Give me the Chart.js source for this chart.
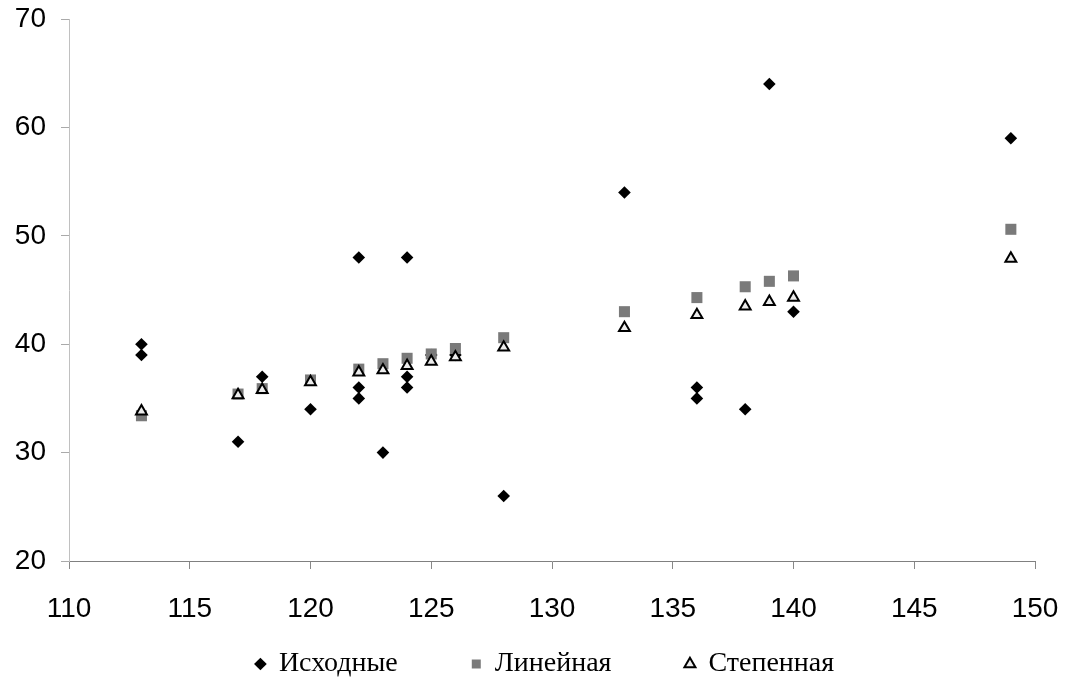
<!DOCTYPE html>
<html>
<head>
<meta charset="utf-8">
<script src="https://cdn.jsdelivr.net/npm/chart.js@4.4.0/dist/chart.umd.min.js"></script>
<style>
  html, body { margin: 0; padding: 0; background: #fff; }
  #wrap { width: 1067px; height: 683px; }
</style>
</head>
<body>
<div id="wrap"><canvas id="chart" width="1067" height="683"></canvas></div>
<script>
// Исходные данные
const srcX = [113, 113, 117, 118, 120, 122, 122, 122, 123, 124, 124, 124, 125, 126, 128, 133, 136, 136, 138, 139, 140, 149];
const srcY = [40, 39, 31, 37, 34, 48, 36, 35, 30, 48, 37, 36, 39, 39, 26, 54, 36, 35, 34, 64, 43, 59];

// Точки аппроксимации
const fitX = [113, 117, 118, 120, 122, 123, 124, 125, 126, 128, 133, 136, 138, 139, 140, 149];
const linY = [33.4, 35.4, 35.9, 36.7, 37.7, 38.2, 38.7, 39.1, 39.6, 40.6, 43.0, 44.3, 45.3, 45.8, 46.3, 50.6];
const powY = [33.8, 35.3, 35.8, 36.5, 37.4, 37.6, 38.0, 38.4, 38.8, 39.7, 41.5, 42.7, 43.5, 43.9, 44.3, 47.9];

const seriesNames = ['Исходные', 'Линейная', 'Степенная'];

const toPoints = (xs, ys) => xs.map((x, i) => ({ x: x, y: ys[i] }));

const tickFont = { family: '"Liberation Sans", Arial, sans-serif', size: 28 };

new Chart(document.getElementById('chart'), {
  type: 'scatter',
  data: {
    datasets: [
      {
        label: seriesNames[0],
        data: toPoints(srcX, srcY),
        pointStyle: 'rectRot',
        pointRadius: 6.3,
        backgroundColor: '#000',
        borderColor: '#000',
        borderWidth: 0,
        order: 3
      },
      {
        label: seriesNames[1],
        data: toPoints(fitX, linY),
        pointStyle: 'rect',
        pointRadius: 7.8,
        backgroundColor: '#7a7a7a',
        borderColor: '#7a7a7a',
        borderWidth: 0,
        order: 2
      },
      {
        label: seriesNames[2],
        data: toPoints(fitX, powY),
        pointStyle: 'triangle',
        pointRadius: 6.3,
        backgroundColor: '#ececec',
        borderColor: '#000',
        borderWidth: 2,
        order: 1
      }
    ]
  },
  options: {
    responsive: false,
    animation: false,
    layout: { padding: { top: 19, right: 32, bottom: -5, left: 0 } },
    scales: {
      x: {
        type: 'linear',
        min: 110,
        max: 150,
        afterFit: s => { s.height = 71; s.paddingLeft = 0; s.paddingRight = 0; },
        ticks: { stepSize: 5, padding: 23, color: '#000', font: tickFont },
        grid: { drawOnChartArea: false, drawTicks: true, tickLength: 8, color: '#888' },
        border: { color: '#808080', width: 1 }
      },
      y: {
        min: 20,
        max: 70,
        afterFit: s => { s.width = 69; s.paddingTop = 0; s.paddingBottom = 0; },
        ticks: { stepSize: 10, padding: 15, color: '#000', font: tickFont },
        grid: { drawOnChartArea: false, drawTicks: true, tickLength: 8, color: '#aaa' },
        border: { color: '#c0c0c0', width: 1 }
      }
    },
    plugins: {
      tooltip: { enabled: false },
      legend: {
        position: 'bottom',
        fullSize: false,
        labels: {
          usePointStyle: true,
          boxWidth: 9,
          boxHeight: 9,
          padding: 18,
          color: '#000',
          font: { family: '"Liberation Serif", "Times New Roman", serif', size: 28 },
          sort: (a, b) => a.datasetIndex - b.datasetIndex,
          // extra space after the names widens the gap between legend items
          generateLabels: chart => {
            const items = Chart.defaults.plugins.legend.labels.generateLabels(chart);
            items.sort((a, b) => a.datasetIndex - b.datasetIndex);
            return items.map((item, i) => Object.assign(item, {
              text: item.text + (i < items.length - 1 ? '\u2002\u2002\u2002\u2002' : '\u2002')
            }));
          }
        }
      }
    }
  }
});
</script>
</body>
</html>
